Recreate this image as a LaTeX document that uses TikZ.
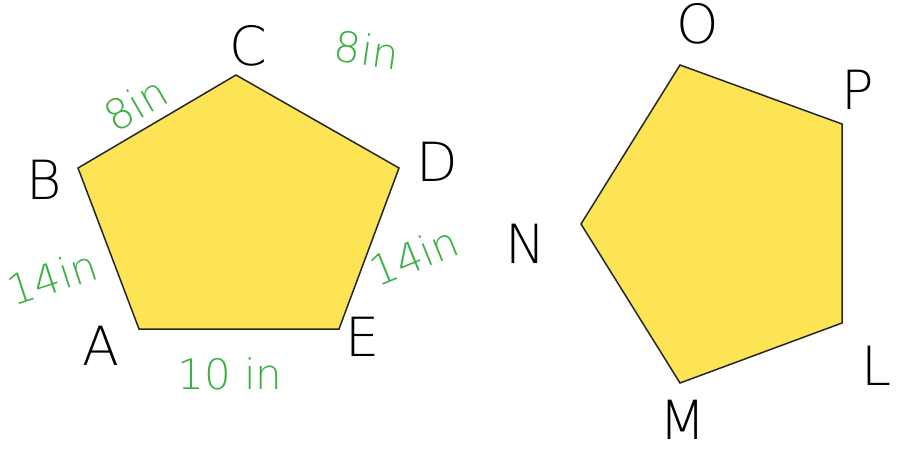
\documentclass[tikz,border=0pt]{standalone}
\usepackage{fontspec}
\setmainfont{DejaVu Sans ExtraLight}
\definecolor{penfill}{RGB}{252,228,84}
\definecolor{pengreen}{RGB}{62,176,70}
\tikzset{
  % segi lima berisi kuning
  pentagon/.style={draw=black!85, line width=1.5pt, fill=penfill, line join=miter},
  % huruf titik sudut
  vlabel/.style={font=\fontsize{54}{54}\selectfont, text=black, inner sep=0pt},
  % ukuran sisi
  slabel/.style={font=\fontsize{42}{42}\selectfont, text=pengreen, inner sep=0pt},
}
\begin{document}
\begin{tikzpicture}[x=1pt,y=-1pt]
\useasboundingbox (0,0) rectangle (902,453);

% =================== SEGI LIMA ABCDE ===================
\coordinate (A) at (139,329);
\coordinate (B) at (78,168);
\coordinate (C) at (236,75);
\coordinate (D) at (399,168);
\coordinate (E) at (339,329);
\draw[pentagon] (A) -- (B) -- (C) -- (D) -- (E) -- cycle;

\node[vlabel] (lA) at (101,346) {A};
\node[vlabel] (lB) at (44,180) {B};
\node[vlabel] (lC) at (248,46) {C};
\node[vlabel] (lD) at (437,162) {D};
\node[vlabel] (lE) at (363,337) {E};

\node[slabel, rotate=30] (sBC) at (136,104) {8in};
\node[slabel, rotate=-8] (sCD) at (367,50) {8in};
\node[slabel, rotate=22] (sDE) at (414,256) {14in};
\node[slabel, rotate=18] (sAB) at (52,277) {14in};
\node[slabel] (sAE) at (230,374) {10 in};

% =================== SEGI LIMA LMNOP ===================
\coordinate (O) at (680,65);
\coordinate (P) at (842,124);
\coordinate (L) at (842,323);
\coordinate (M) at (680,383);
\coordinate (N) at (581,224);
\draw[pentagon] (O) -- (P) -- (L) -- (M) -- (N) -- cycle;

\node[vlabel] (lO) at (698,24) {O};
\node[vlabel] (lP) at (858,90) {P};
\node[vlabel] (lN) at (526,244) {N};
\node[vlabel] (lL) at (877,366) {L};
\node[vlabel] (lM) at (683,420) {M};

\end{tikzpicture}
\end{document}
